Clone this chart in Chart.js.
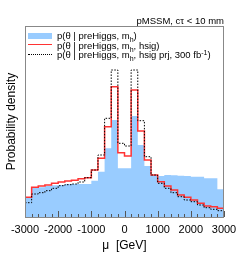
<!DOCTYPE html>
<html>
<head>
<meta charset="utf-8">
<script src="https://cdn.jsdelivr.net/npm/chart.js@4/dist/chart.umd.min.js"></script>
<style>
  html, body { margin:0; padding:0; background:#fff; }
  #wrap { position:relative; width:249px; height:257px; font-family:"Liberation Sans", Arial, Helvetica, sans-serif; }
  canvas { position:absolute; left:0; top:0; }
  .lg { position:absolute; font-size:9.5px; line-height:1; color:#000; white-space:nowrap; }
  .lg sub { font-size:7px; vertical-align:-3px; line-height:0; }
  .lg sup { font-size:7px; vertical-align:3px; line-height:0; }
  .sw { position:absolute; }
</style>
</head>
<body>
<div id="wrap">
  <canvas id="c" width="249" height="257"></canvas>
  <div class="lg" style="right:25px; top:16px;">pMSSM, cτ &lt; 10 mm</div>
  <div class="sw" style="left:28px; top:33px; width:24px; height:6px; background:rgb(153,204,255);"></div>
  <div class="lg" style="left:57px; top:31px;">p(θ | preHiggs, m<sub>h</sub>)</div>
  <div class="sw" style="left:28px; top:44px; width:24px; height:0; border-top:1.5px solid rgb(255,51,51);"></div>
  <div class="lg" style="left:57px; top:40.5px;">p(θ | preHiggs, m<sub>h</sub>, hsig)</div>
  <div class="sw" style="left:28px; top:54px; width:24px; height:0; border-top:1px dotted #000;"></div>
  <div class="lg" style="left:57px; top:50px;">p(θ | preHiggs, m<sub>h</sub>, hsig prj, 300 fb<sup>-1</sup>)</div>
</div>
<script>
const binEdges = [-3000,-2800,-2600,-2400,-2200,-2000,-1800,-1600,-1400,-1200,-1000,-800,-600,-400,-200,0,200,400,600,800,1000,1200,1400,1600,1800,2000,2200,2400,2600,2800,3000];
const pMh = [19.7,29,29.7,31,31.7,32,33,33,33,33,36.3,45.3,68.7,97,48.7,48.7,101,72,51,42,41,42,41.7,41.3,41,40.3,40.3,38.7,38.7,27.7];
const pMhHsig = [19.7,29.7,31,32,33.7,35,36,36.7,38.3,39.3,47,58.7,90.3,130.3,64.3,61,127,86,57,42,35.3,31,27,22,19.7,17,13.7,11,10.3,8.7];
const pMhHsigPrj = [14.3,23,24.3,26.3,28.7,31.3,32.3,33,35,39.3,47,62,98.7,147,73.7,71,147,96.3,60.3,42,33.7,28.7,24.3,20.3,17,15.3,12,9.3,7.7,6.3];
const xTickValues = [-3000,-2000,-1000,0,1000,2000,3000];
const xTickLabels = ["-3000","-2000","-1000","0","1000","2000","3000"];
const yMax = 191;

function toSteps(vals) {
  return binEdges.map((x, i) => ({ x: x, y: vals[Math.min(i, vals.length - 1)] }));
}

const framePlugin = {
  id: 'frame',
  afterDatasetsDraw(chart) {
    const ctx = chart.ctx, a = chart.chartArea, xs = chart.scales.x;
    ctx.save();
    // ticks
    ctx.strokeStyle = '#555';
    ctx.lineWidth = 1;
    for (let i = 0; i < binEdges.length; i++) {
      const v = binEdges[i];
      const px = Math.round(xs.getPixelForValue(v)) + 0.5;
      const major = xTickValues.indexOf(v) >= 0;
      const len = major ? 6 : 3;
      ctx.beginPath();
      ctx.moveTo(px, a.bottom);
      ctx.lineTo(px, a.bottom - len);
      ctx.stroke();
    }
    ctx.strokeStyle = '#888';
    ctx.strokeRect(Math.round(a.left) + 0.5, Math.round(a.top) + 0.5, Math.round(a.right - a.left) - 1, Math.round(a.bottom - a.top));
    ctx.restore();
  }
};

new Chart(document.getElementById('c'), {
  type: 'line',
  data: {
    datasets: [
      { label: 'pMh', data: toSteps(pMh), stepped: true, fill: 'origin', backgroundColor: 'rgb(153,204,255)', borderColor: 'rgb(153,204,255)', borderWidth: 0, pointRadius: 0, order: 3 },
      { label: 'pMhHsig', data: toSteps(pMhHsig), stepped: true, fill: false, borderColor: 'rgb(255,51,51)', borderWidth: 1.5, pointRadius: 0, order: 2 },
      { label: 'pMhHsigPrj', data: toSteps(pMhHsigPrj), stepped: true, fill: false, borderColor: '#000', borderWidth: 1, borderDash: [1.5, 1.5], pointRadius: 0, order: 1 }
    ]
  },
  options: {
    responsive: false,
    animation: false,
    events: [],
    layout: { padding: { left: 0, right: 25, top: 26, bottom: 0 } },
    plugins: { legend: { display: false }, tooltip: { enabled: false } },
    scales: {
      x: {
        type: 'linear', min: -3000, max: 3000,
        grid: { display: false, drawTicks: false },
        border: { display: false },
        afterBuildTicks(scale) { scale.ticks = xTickValues.map(v => ({ value: v })); },
        afterFit(scale) { scale.height = 40; },
        ticks: {
          padding: 6, maxRotation: 0, autoSkip: false, color: '#000',
          font: { family: '"Liberation Sans", Arial, sans-serif', size: 11 },
          callback(v) { const i = xTickValues.indexOf(v); return i >= 0 ? xTickLabels[i] : ''; }
        },
        title: { display: true, text: 'μ  [GeV]', color: '#000', padding: { top: 0, bottom: 4 }, font: { family: '"Liberation Sans", Arial, sans-serif', size: 12 } }
      },
      y: {
        min: 0, max: yMax,
        grid: { display: false, drawTicks: false },
        border: { display: false },
        ticks: { display: false },
        afterFit(scale) { scale.width = 25; },
        title: { display: true, text: 'Probability density', color: '#000', padding: { top: 4, bottom: 0 }, font: { family: '"Liberation Sans", Arial, sans-serif', size: 12 } }
      }
    }
  },
  plugins: [framePlugin]
});
</script>
</body>
</html>
